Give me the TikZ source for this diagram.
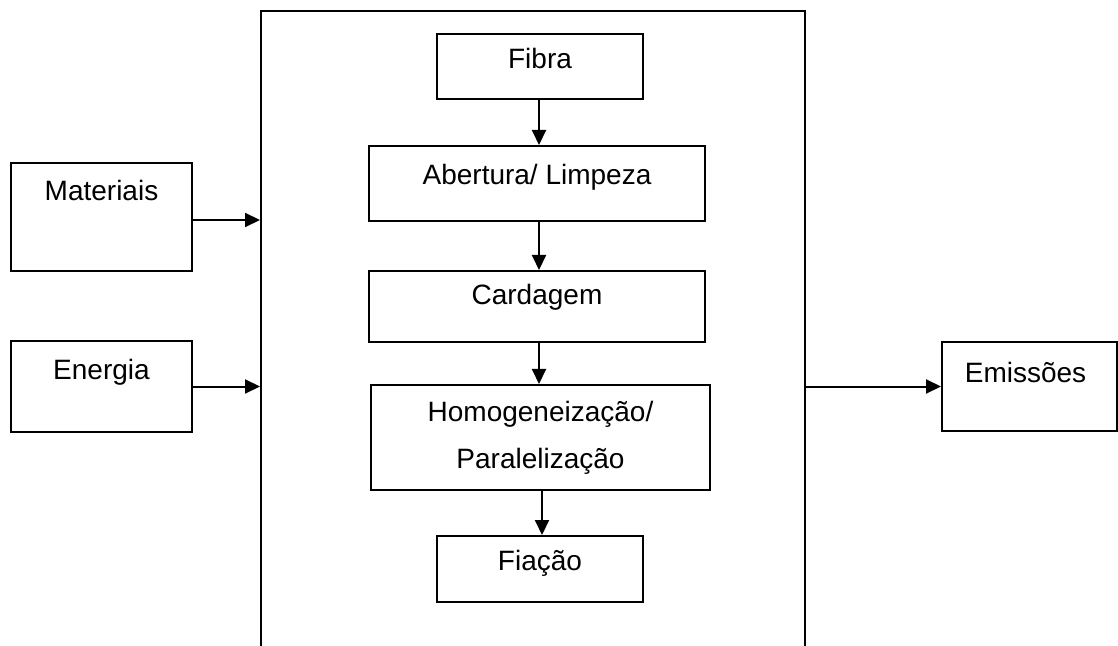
\documentclass[tikz,border=0pt]{standalone}
\usepackage{fontspec}
\setmainfont{Liberation Sans}
\usetikzlibrary{arrows.meta}
\begin{document}
\begin{tikzpicture}[x=0.5pt,y=-0.5pt,
  box/.style={draw, line width=1pt, inner sep=0pt, font=\fontsize{14}{23.5}\selectfont, align=center},
  lbl/.style={font=\fontsize{14}{23.5}\selectfont, inner sep=0pt},
  arr/.style={line width=1pt, -{Triangle[length=7.5pt,width=7pt]}}]
  \useasboundingbox (0,0) rectangle (1118,646);
  \clip (0,0) rectangle (1118,646);

  % process boundary, open at the bottom edge
  \node[box, minimum width=272pt, minimum height=334.5pt] (sys) at (533,345.5) {};

  % inputs and outputs
  \node[box, minimum width=90.5pt, minimum height=54pt,
        label={[lbl,yshift=13.5pt]center:Materiais}] (mat) at (101.5,217) {};
  \node[box, minimum width=90.5pt, minimum height=45.5pt,
        label={[lbl,yshift=7.25pt]center:Energia}] (ene) at (101.5,386.5) {};
  \node[box, minimum width=87.5pt, minimum height=44.5pt,
        label={[lbl,yshift=7.25pt,xshift=-2pt]center:Emissões}] (emi) at (1029.5,386.5) {};

  % process steps
  \node[box, minimum width=103pt, minimum height=32.5pt,
        label={[lbl,yshift=4.25pt]center:Fibra}] (fib) at (540,66.5) {};
  \node[box, minimum width=168pt, minimum height=37.5pt,
        label={[lbl,yshift=3.25pt]center:Abertura/ Limpeza}] (abe) at (537,183.5) {};
  \node[box, minimum width=168pt, minimum height=35.5pt,
        label={[lbl,yshift=4.75pt]center:Cardagem}] (car) at (537,306.5) {};
  \node[box, minimum width=169.5pt, minimum height=52.5pt] (hom) at (540.5,437.5)
        {Homogeneização/\\Paralelização};
  \node[box, minimum width=103pt, minimum height=33pt,
        label={[lbl,yshift=3pt]center:Fiação}] (fia) at (540,569) {};

  % flow between steps
  \draw[arr] ([xshift=-0.5pt]fib.south) -- ([xshift=-0.5pt]fib.south |- abe.north);
  \draw[arr] ([xshift=1pt]abe.south) -- ([xshift=1pt]abe.south |- car.north);
  \draw[arr] ([xshift=1pt]car.south) -- ([xshift=1pt]car.south |- hom.north);
  \draw[arr] ([xshift=0.75pt]hom.south) -- ([xshift=0.75pt]hom.south |- fia.north);

  % flows across the boundary
  \draw[arr] ([yshift=-1.5pt]mat.east) -- ([yshift=-1.5pt]mat.east -| sys.west);
  \draw[arr] (ene.east) -- (ene.east -| sys.west);
  \draw[arr] (emi.west -| sys.east) -- (emi.west);
\end{tikzpicture}
\end{document}
